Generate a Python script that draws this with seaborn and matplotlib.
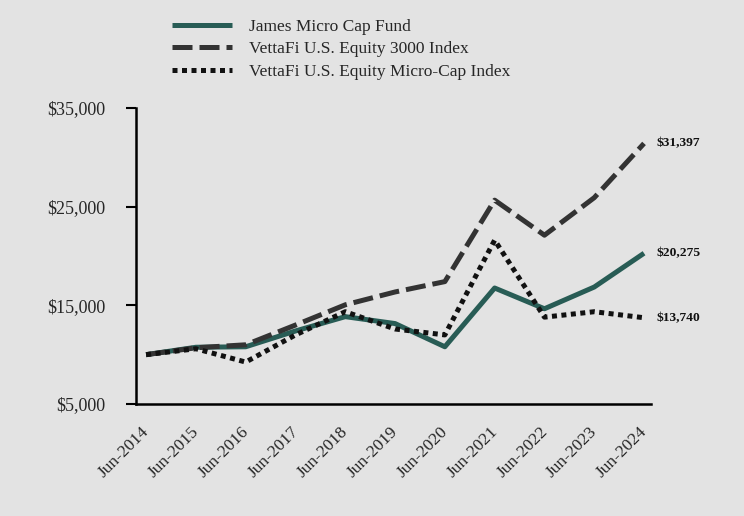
import pandas as pd
import matplotlib.pyplot as plt
import matplotlib.transforms as mtransforms
import seaborn as sns

# values (growth of $10,000)
years = ["Jun-2014", "Jun-2015", "Jun-2016", "Jun-2017", "Jun-2018", "Jun-2019",
         "Jun-2020", "Jun-2021", "Jun-2022", "Jun-2023", "Jun-2024"]
fund = [10000, 10750, 10800, 12400, 13850, 13150, 10800, 16750, 14650, 16850, 20275]
equity_3000 = [10000, 10700, 11000, 13000, 15050, 16350, 17400, 25650, 22100, 25900, 31397]
micro_cap = [10000, 10600, 9250, 12000, 14350, 12600, 12000, 21600, 13800, 14350, 13740]
series_names = ["James Micro Cap Fund", "VettaFi U.S. Equity 3000 Index",
                "VettaFi U.S. Equity Micro-Cap Index"]
end_labels = ["$20,275", "$31,397", "$13,740"]

bg = "#e3e3e3"
sns.set_theme(style="white", rc={"axes.facecolor": bg, "figure.facecolor": bg})
plt.rcParams["font.family"] = ["Liberation Serif", "DejaVu Serif"]

fig = plt.figure(figsize=(7.44, 5.16), dpi=100)
ax = fig.add_axes([0.183, 0.217, 0.692, 0.574])

x = list(range(len(years)))
styles = [
    dict(color="#285c55", linestyle="-"),
    dict(color="#333333", dashes=(4, 1.4)),
    dict(color="#111111", dashes=(1, 0.9)),
]
for name, values, st in zip(series_names, [fund, equity_3000, micro_cap], styles):
    df = pd.DataFrame({"x": x, "value": values})
    sns.lineplot(data=df, x="x", y="value", ax=ax, label=name, linewidth=3.6,
                 solid_capstyle="butt", dash_capstyle="butt", **st)

for values, txt in zip([fund, equity_3000, micro_cap], end_labels):
    ax.annotate(txt, xy=(x[-1], values[-1]), xytext=(9, 0), textcoords="offset points",
                ha="left", va="center", fontsize=9.7, fontweight="bold", color="#111111")

ax.set_xlim(-0.2, 10.14)
ax.set_ylim(5000, 35000)
ax.set_yticks([5000, 15000, 25000, 35000])
ax.set_yticklabels(["$5,000", "$15,000", "$25,000", "$35,000"], fontsize=13)
ax.set_xticks(x)
ax.set_xticklabels(years, rotation=45, ha="right", rotation_mode="anchor", fontsize=12.5)
ax.set_xlabel("")
ax.set_ylabel("")
ax.tick_params(axis="y", length=7, width=1.5, color="black", pad=15, left=True)
ax.tick_params(axis="x", length=0, pad=14)

# nudge the rotated date labels a little to the left
shift = mtransforms.ScaledTranslation(-5 / 100, 0, fig.dpi_scale_trans)
for lbl in ax.get_xticklabels():
    lbl.set_transform(lbl.get_transform() + shift)

sns.despine(ax=ax)
for side in ["left", "bottom"]:
    ax.spines[side].set_color("black")
    ax.spines[side].set_linewidth(1.8)

ax.legend_.remove()
handles, labels = ax.get_legend_handles_labels()
fig.legend(handles, labels, loc="upper left", bbox_to_anchor=(0.21, 0.994), frameon=False,
           fontsize=12.5, handlelength=3.45, handletextpad=0.98, labelspacing=0.37)

fig.savefig("out.png", dpi=100)
plt.close()
